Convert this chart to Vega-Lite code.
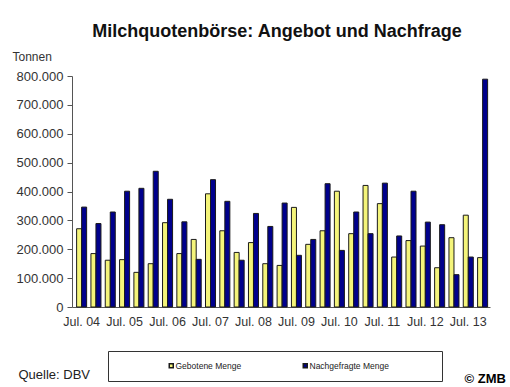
{
  "$schema": "https://vega.github.io/schema/vega-lite/v6.json",
  "width": 418,
  "height": 231,
  "autosize": {"type": "none"},
  "padding": {"left": 72, "top": 76, "right": 20, "bottom": 80},
  "background": "white",
  "config": {
    "font": "Liberation Sans, Arial, sans-serif",
    "view": {"stroke": null},
    "axis": {"grid": false}
  },
  "title": {
    "text": "Milchquotenbörse: Angebot und Nachfrage",
    "fontSize": 18,
    "fontWeight": "bold",
    "color": "#111111",
    "anchor": "middle",
    "frame": "group",
    "baseline": "alphabetic",
    "offset": 10,
    "dy": 15,
    "dx": -4
  },
  "data": {
    "values": [
      {"termin": "Jul. 04", "serie": "Gebotene Menge", "menge": 271000},
      {"termin": "Jul. 04", "serie": "Nachgefragte Menge", "menge": 346000},
      {"termin": "Nov. 04", "serie": "Gebotene Menge", "menge": 185000},
      {"termin": "Nov. 04", "serie": "Nachgefragte Menge", "menge": 289000},
      {"termin": "Apr. 05", "serie": "Gebotene Menge", "menge": 162000},
      {"termin": "Apr. 05", "serie": "Nachgefragte Menge", "menge": 329000},
      {"termin": "Jul. 05", "serie": "Gebotene Menge", "menge": 164000},
      {"termin": "Jul. 05", "serie": "Nachgefragte Menge", "menge": 401000},
      {"termin": "Nov. 05", "serie": "Gebotene Menge", "menge": 120000},
      {"termin": "Nov. 05", "serie": "Nachgefragte Menge", "menge": 411000},
      {"termin": "Apr. 06", "serie": "Gebotene Menge", "menge": 150000},
      {"termin": "Apr. 06", "serie": "Nachgefragte Menge", "menge": 470000},
      {"termin": "Jul. 06", "serie": "Gebotene Menge", "menge": 292000},
      {"termin": "Jul. 06", "serie": "Nachgefragte Menge", "menge": 373000},
      {"termin": "Nov. 06", "serie": "Gebotene Menge", "menge": 185000},
      {"termin": "Nov. 06", "serie": "Nachgefragte Menge", "menge": 295000},
      {"termin": "Apr. 07", "serie": "Gebotene Menge", "menge": 234000},
      {"termin": "Apr. 07", "serie": "Nachgefragte Menge", "menge": 165000},
      {"termin": "Jul. 07", "serie": "Gebotene Menge", "menge": 392000},
      {"termin": "Jul. 07", "serie": "Nachgefragte Menge", "menge": 441000},
      {"termin": "Nov. 07", "serie": "Gebotene Menge", "menge": 264000},
      {"termin": "Nov. 07", "serie": "Nachgefragte Menge", "menge": 366000},
      {"termin": "Apr. 08", "serie": "Gebotene Menge", "menge": 189000},
      {"termin": "Apr. 08", "serie": "Nachgefragte Menge", "menge": 162000},
      {"termin": "Jul. 08", "serie": "Gebotene Menge", "menge": 223000},
      {"termin": "Jul. 08", "serie": "Nachgefragte Menge", "menge": 324000},
      {"termin": "Nov. 08", "serie": "Gebotene Menge", "menge": 150000},
      {"termin": "Nov. 08", "serie": "Nachgefragte Menge", "menge": 279000},
      {"termin": "Apr. 09", "serie": "Gebotene Menge", "menge": 144000},
      {"termin": "Apr. 09", "serie": "Nachgefragte Menge", "menge": 360000},
      {"termin": "Jul. 09", "serie": "Gebotene Menge", "menge": 345000},
      {"termin": "Jul. 09", "serie": "Nachgefragte Menge", "menge": 179000},
      {"termin": "Nov. 09", "serie": "Gebotene Menge", "menge": 217000},
      {"termin": "Nov. 09", "serie": "Nachgefragte Menge", "menge": 234000},
      {"termin": "Apr. 10", "serie": "Gebotene Menge", "menge": 264000},
      {"termin": "Apr. 10", "serie": "Nachgefragte Menge", "menge": 427000},
      {"termin": "Jul. 10", "serie": "Gebotene Menge", "menge": 401000},
      {"termin": "Jul. 10", "serie": "Nachgefragte Menge", "menge": 196000},
      {"termin": "Nov. 10", "serie": "Gebotene Menge", "menge": 254000},
      {"termin": "Nov. 10", "serie": "Nachgefragte Menge", "menge": 329000},
      {"termin": "Apr. 11", "serie": "Gebotene Menge", "menge": 421000},
      {"termin": "Apr. 11", "serie": "Nachgefragte Menge", "menge": 254000},
      {"termin": "Jul. 11", "serie": "Gebotene Menge", "menge": 358000},
      {"termin": "Jul. 11", "serie": "Nachgefragte Menge", "menge": 429000},
      {"termin": "Nov. 11", "serie": "Gebotene Menge", "menge": 173000},
      {"termin": "Nov. 11", "serie": "Nachgefragte Menge", "menge": 246000},
      {"termin": "Apr. 12", "serie": "Gebotene Menge", "menge": 230000},
      {"termin": "Apr. 12", "serie": "Nachgefragte Menge", "menge": 401000},
      {"termin": "Jul. 12", "serie": "Gebotene Menge", "menge": 211000},
      {"termin": "Jul. 12", "serie": "Nachgefragte Menge", "menge": 294000},
      {"termin": "Nov. 12", "serie": "Gebotene Menge", "menge": 136000},
      {"termin": "Nov. 12", "serie": "Nachgefragte Menge", "menge": 285000},
      {"termin": "Apr. 13", "serie": "Gebotene Menge", "menge": 240000},
      {"termin": "Apr. 13", "serie": "Nachgefragte Menge", "menge": 112000},
      {"termin": "Jul. 13", "serie": "Gebotene Menge", "menge": 318000},
      {"termin": "Jul. 13", "serie": "Nachgefragte Menge", "menge": 173000},
      {"termin": "Nov. 13", "serie": "Gebotene Menge", "menge": 171000},
      {"termin": "Nov. 13", "serie": "Nachgefragte Menge", "menge": 789000}
    ]
  },
  "layer": [
    {
      "mark": {"type": "bar", "stroke": "#1a1a1a", "strokeWidth": 1},
      "encoding": {
        "x": {
          "field": "termin",
          "type": "nominal",
          "sort": null,
          "scale": {"paddingInner": 0.3, "paddingOuter": 0.244, "align": 0.66},
          "axis": {
            "values": ["Jul. 04", "Jul. 05", "Jul. 06", "Jul. 07", "Jul. 08", "Jul. 09", "Jul. 10", "Jul. 11", "Jul. 12", "Jul. 13"],
            "labelAngle": 0,
            "ticks": false,
            "labelPadding": 8,
            "labelFontSize": 12.5,
            "labelColor": "#333333",
            "domainColor": "#555555",
            "title": "Quelle: DBV",
            "titleX": -54,
            "titleY": 71,
            "titleAlign": "left",
            "titleBaseline": "alphabetic",
            "titleFontSize": 13,
            "titleFontWeight": "normal",
            "titleColor": "#222222"
          }
        },
        "xOffset": {
          "field": "serie",
          "type": "nominal",
          "scale": {"paddingInner": 0, "paddingOuter": 0}
        },
        "y": {
          "field": "menge",
          "type": "quantitative",
          "scale": {"domain": [0, 800000], "nice": false},
          "axis": {
            "orient": "left",
            "values": [0, 100000, 200000, 300000, 400000, 500000, 600000, 700000, 800000],
            "labelExpr": "replace(format(datum.value, ','), ',', '.')",
            "labelFontSize": 13,
            "labelColor": "#333333",
            "labelPadding": 4,
            "tickSize": 5,
            "tickColor": "#555555",
            "domainColor": "#555555",
            "title": "Tonnen",
            "titleAngle": 0,
            "titleX": -60,
            "titleY": -16,
            "titleAlign": "left",
            "titleBaseline": "alphabetic",
            "titleFontSize": 12,
            "titleFontWeight": "normal",
            "titleColor": "#333333"
          }
        },
        "color": {
          "field": "serie",
          "type": "nominal",
          "scale": {"domain": ["Gebotene Menge", "Nachgefragte Menge"], "range": ["#f4f47a", "#00008c"]},
          "legend": {
            "orient": "none",
            "legendX": 36,
            "legendY": 275,
            "direction": "horizontal",
            "title": null,
            "strokeColor": "#333333",
            "padding": 10,
            "columnPadding": 10,
            "symbolOffset": 49,
            "symbolType": "square",
            "symbolSize": 16,
            "symbolStrokeColor": "#1a1a1a",
            "symbolStrokeWidth": 1.5,
            "labelOffset": 0,
            "labelFontSize": 8.5,
            "labelColor": "#222222",
            "labelExpr": "datum.label == 'Nachgefragte Menge' ? datum.label + '\u00a0\u00a0\u00a0\u00a0\u00a0\u00a0\u00a0\u00a0\u00a0\u00a0\u00a0\u00a0\u00a0\u00a0\u00a0\u00a0\u00a0\u00a0\u200b' : datum.label"
          }
        }
      }
    },
    {
      "mark": {"type": "rule", "opacity": 0},
      "encoding": {
        "y": {
          "datum": 0,
          "type": "quantitative",
          "axis": {
            "orient": "right",
            "labels": false,
            "ticks": false,
            "domain": false,
            "title": "© ZMB",
            "titleAngle": 0,
            "titleX": -26,
            "titleY": 306,
            "titleAlign": "left",
            "titleBaseline": "alphabetic",
            "titleFontSize": 13,
            "titleFontWeight": "bold",
            "titleColor": "#000000"
          }
        }
      }
    }
  ],
  "resolve": {"axis": {"y": "independent"}}
}
